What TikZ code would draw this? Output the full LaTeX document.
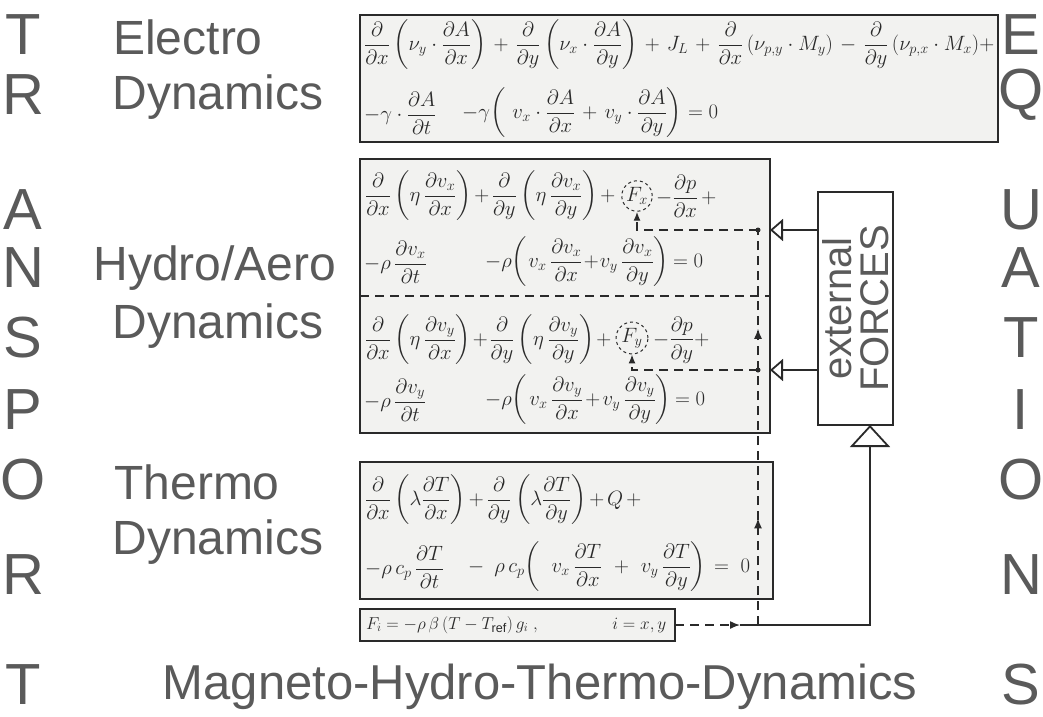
\documentclass[tikz,border=0pt]{standalone}
\usepackage{amsmath}
\usepackage{fontspec}
\setmainfont{Liberation Sans}
\usetikzlibrary{arrows.meta,positioning,decorations.markings}
\definecolor{labgray}{HTML}{5A5A5A}
\definecolor{ink}{HTML}{2A2A2A}
\definecolor{boxfill}{HTML}{F2F2F0}
\newcommand\mypdo[1]{\dfrac{\partial}{\partial #1}}
\newcommand\mypdf[2]{\dfrac{\partial #1}{\partial #2}}
\begin{document}
\begin{tikzpicture}[x=1pt,y=-1pt,
  bigletter/.style={text=labgray,font=\fontsize{58}{58}\selectfont,inner sep=0pt},
  biglabel/.style={text=labgray,font=\fontsize{48}{50}\selectfont,inner sep=0pt},
  eqbox/.style={draw=ink,line width=1.8pt,fill=boxfill,inner sep=0pt,outer sep=0pt,anchor=north west},
  eq/.style={anchor=west,inner sep=0pt,text=ink,font=\fontsize{20}{24}\selectfont},
  dashline/.style={draw=ink,line width=1.4pt,dash pattern=on 9pt off 6pt},
  solidline/.style={draw=ink,line width=1.8pt},
  fcirc/.style={circle,draw=ink,dashed,line width=1pt,inner sep=1pt,minimum size=30pt,text=ink,font=\fontsize{20}{24}\selectfont},
  hollow/.style={solidline,-{Triangle[open,length=13pt,width=22pt]}},
  upmarks/.style={postaction={decorate,decoration={markings,
     mark=at position 0.27 with {\arrow{Latex[length=10pt,width=8pt]}},
     mark=at position 0.75 with {\arrow{Latex[length=10pt,width=8pt]}}}}},
]
\useasboundingbox[fill=white] (0,0) rectangle (1043,716);

% side letters
\foreach \ch/\y [count=\i] in {T/35,R/95,A/210,N/268,S/338,P/410,O/480,R/575,T/685}
  \node[bigletter] (left\i) at (23,\y) {\ch};
\foreach \ch/\y [count=\i] in {E/35,Q/95,U/210,A/268,T/338,I/410,O/480,N/575,S/685}
  \node[bigletter] (right\i) at (1021,\y) {\ch};

% labels
\node[biglabel] (electro) at (188,37) {Electro};
\node[biglabel] (dyn1) at (218,97) {Dynamics};
\node[biglabel] (hydro) at (215,268) {Hydro/Aero};
\node[biglabel] (dyn2) at (218,326) {Dynamics};
\node[biglabel] (thermo) at (197,482) {Thermo};
\node[biglabel] (dyn3) at (218,542) {Dynamics};
\node[biglabel,font=\fontsize{49}{50}\selectfont] (mhtd) at (540,687) {Magneto-Hydro-Thermo-Dynamics};

% boxes
\node[eqbox,minimum width=638pt,minimum height=127pt] (ebox) at (360,15) {};
\node[eqbox,minimum width=410pt,minimum height=274pt] (hbox) at (360,159) {};
\node[eqbox,minimum width=413pt,minimum height=137pt] (tbox) at (360,462) {};
\node[eqbox,minimum width=315pt,minimum height=32pt] (fbox) at (360,609) {};
\node[eqbox,fill=white,minimum width=75pt,minimum height=233pt] (ext) at (818,192) {};
\node[rotate=90,align=center,text=labgray,font=\fontsize{40}{37}\selectfont] (extlabel) at (ext.center) {external\\FORCES};

% electro equations
\node[eq] (e1) at (364,45) {\hbox to 630pt{$\mypdo{x}\left(\nu_y\cdot\mypdf{A}{x}\right)$\hfill$+$\hfill$\mypdo{y}\left(\nu_x\cdot\mypdf{A}{y}\right)$\hfill$+$\hfill$J_L$\hfill$+$\hfill$\mypdo{x}\,(\nu_{p,y}\cdot M_y)$\hfill$-$\hfill$\mypdo{y}\,(\nu_{p,x}\cdot M_x)+$}};
\node[eq] (e2a) at (364,113) {$-\gamma\cdot\mypdf{A}{t}$};
\node[eq] (e2b) at (462,113) {\hbox to 256pt{$-\gamma\biggl($\hfill$v_x\cdot\mypdf{A}{x}$\hfill$+$\hfill$v_y\cdot\mypdf{A}{y}\biggr)$\hskip6pt$=0$}};

% hydro equations
\node[eq] (h1a) at (365,196) {\hbox to 250pt{$\mypdo{x}\left(\eta\,\mypdf{v_x}{x}\right)$\hfill$+$\hfill$\mypdo{y}\left(\eta\,\mypdf{v_x}{y}\right)$\hfill$+$}};
\node[fcirc] (fx) at (637,196) {$F_x$};
\node[eq] (h1b) at (656,196) {\hbox to 60pt{$-\mypdf{p}{x}$\hfill$+$}};
\node[eq] (h2a) at (364,262) {$-\rho\,\mypdf{v_x}{t}$};
\node[eq] (h2b) at (485,262) {\hbox to 218pt{$-\rho\biggl($\hfill$v_x\,\mypdf{v_x}{x}$\hfill$+$\hfill$v_y\,\mypdf{v_x}{y}\biggr)$\hskip4pt$=0$}};
\node[eq] (h3a) at (365,340) {\hbox to 246pt{$\mypdo{x}\left(\eta\,\mypdf{v_y}{x}\right)$\hfill$+$\hfill$\mypdo{y}\left(\eta\,\mypdf{v_y}{y}\right)$\hfill$+$}};
\node[fcirc] (fy) at (632,338) {$F_y$};
\node[eq] (h3b) at (653,340) {\hbox to 56pt{$-\mypdf{p}{y}$\hfill$+$}};
\node[eq] (h4a) at (364,400) {$-\rho\,\mypdf{v_y}{t}$};
\node[eq] (h4b) at (485,400) {\hbox to 220pt{$-\rho\biggl($\hfill$v_x\,\mypdf{v_y}{x}$\hfill$+$\hfill$v_y\,\mypdf{v_y}{y}\biggr)$\hskip4pt$=0$}};

% thermo equations
\node[eq] (t1) at (365,500) {\hbox to 276pt{$\mypdo{x}\left(\lambda\mypdf{T}{x}\right)$\hfill$+$\hfill$\mypdo{y}\left(\lambda\mypdf{T}{y}\right)$\hfill$+$\hfill$Q$\hfill$+$}};
\node[eq] (t2a) at (365,567) {$-\rho\,c_p\,\mypdf{T}{t}$};
\node[eq] (t2b) at (468,567) {\hbox to 282pt{$-$\hskip10pt$\rho\,c_p\biggl($\hfill$v_x\,\mypdf{T}{x}$\hfill$+$\hfill$v_y\,\mypdf{T}{y}\biggr)$\hskip8pt$=\;0$}};

% buoyancy force
\node[eq,font=\fontsize{18}{22}\selectfont] (fi) at (366,625) {\hbox to 300pt{$F_i=-\rho\,\beta\,(T-T_{\mathrm{ref}})\,g_i\;,$\hfill$i=x,y$}};

% dashed divider
\draw[dashline] (hbox.west |- 0,296) -- (hbox.east |- 0,296);

% junctions
\coordinate (jx) at (758,230);
\coordinate (jy) at (758,370);
\coordinate (jf) at (758,625);
\coordinate (fiend) at (740,625);
\coordinate (fcorner) at (870,625);

\draw[dashline,upmarks] (jf) -- (jx);
\draw[dashline,-{Latex[length=9pt,width=7pt]}] (jx) -| (fx.south);
\draw[dashline,-{Latex[length=9pt,width=7pt]}] (jy) -| (fy.south);
\fill[ink] (jx) circle (2.5pt) (jy) circle (2.5pt);

\draw[dashline,-{Latex[length=10pt,width=8pt]}] (fbox.east) -- (fiend);
\draw[solidline,-{Triangle[open,length=22pt,width=40pt]}] (fiend) -| (ext.south -| fcorner);

\draw[hollow] (ext.west |- jx) -- (hbox.east |- jx);
\draw[hollow] (ext.west |- jy) -- (hbox.east |- jy);
\end{tikzpicture}
\end{document}
